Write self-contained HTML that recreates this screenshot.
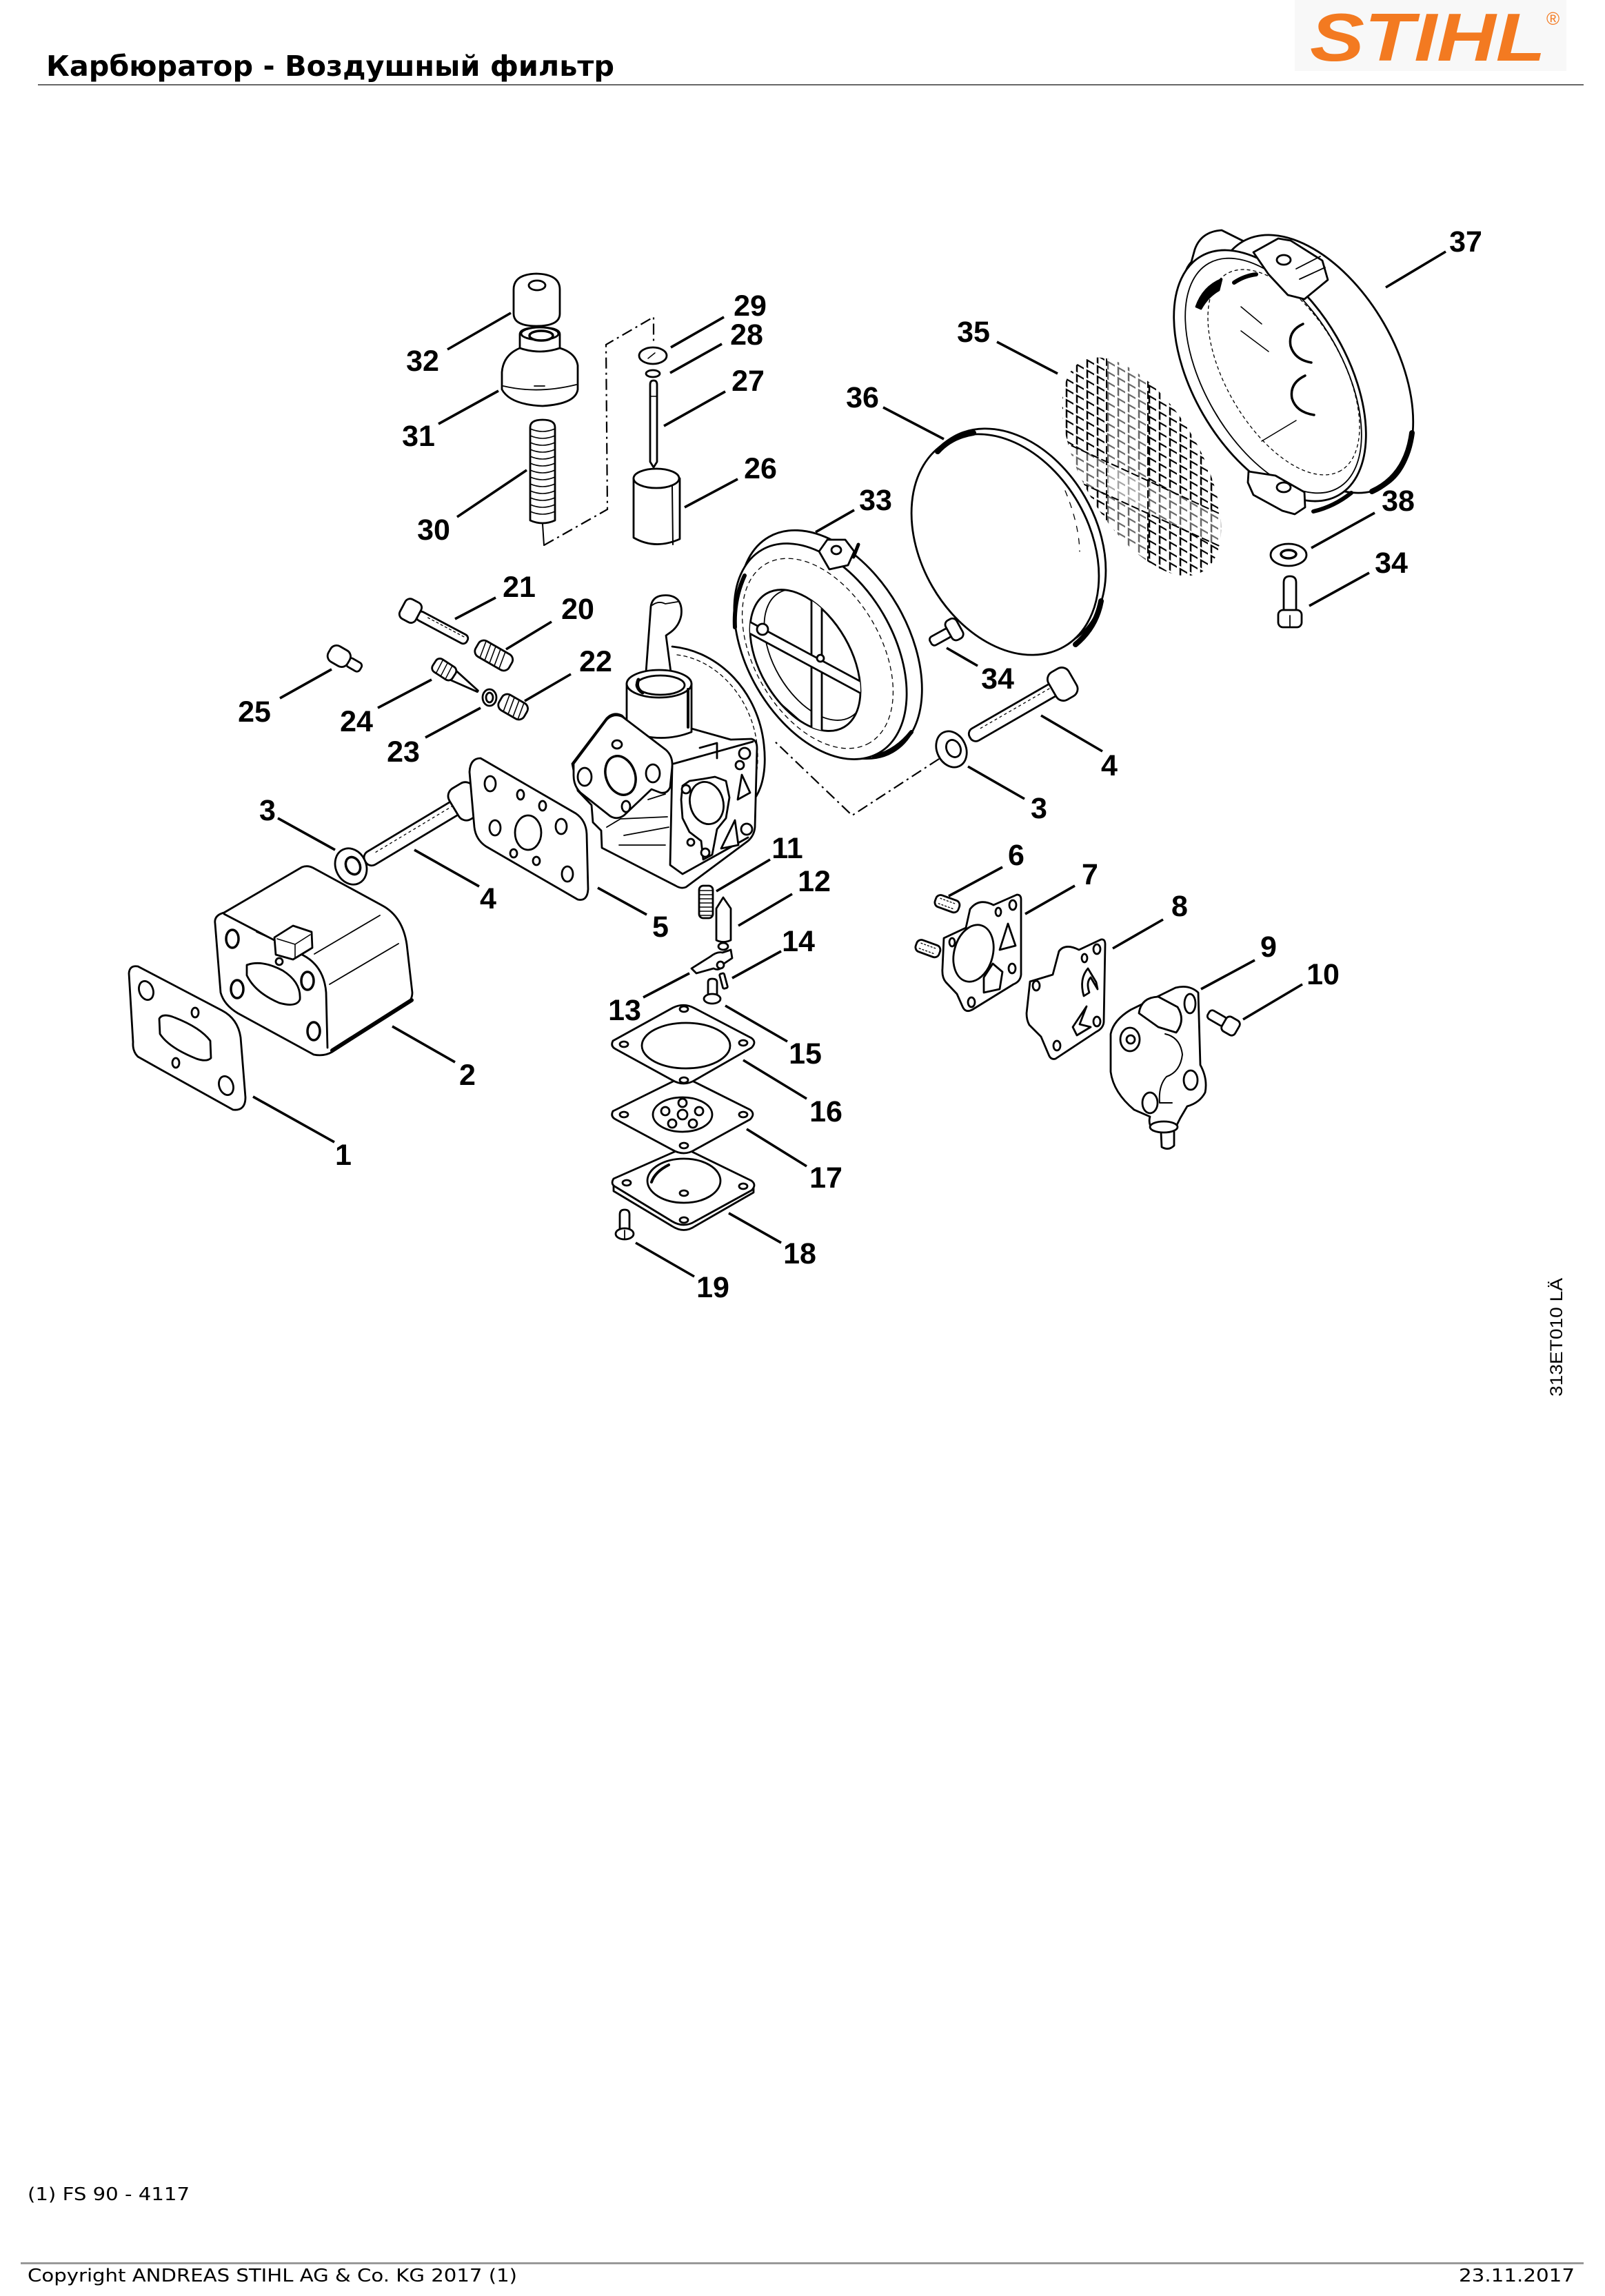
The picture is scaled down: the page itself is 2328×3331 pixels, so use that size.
<!DOCTYPE html>
<html><head><meta charset="utf-8"><title>Карбюратор - Воздушный фильтр</title>
<style>html,body{margin:0;padding:0;background:#fff;}body{width:2328px;height:3331px;overflow:hidden;}svg{display:block;}</style></head>
<body>
<svg width="2328" height="3331" viewBox="0 0 2328 3331" xmlns="http://www.w3.org/2000/svg">
<defs>
<pattern id="mesh" width="15" height="15" patternUnits="userSpaceOnUse" patternTransform="skewY(30)"><path d="M1,2 H12 M2,1 V13" stroke="#000" stroke-width="2.5" fill="none"/></pattern>
<clipPath id="c35"><ellipse cx="1656" cy="677" rx="176" ry="86" transform="rotate(60 1656 677)"/></clipPath>
<clipPath id="c33"><ellipse cx="1168" cy="958" rx="112" ry="66" transform="rotate(60 1168 958)"/></clipPath>
</defs>
<rect width="2328" height="3331" fill="#fff"/>
<!-- header -->
<rect x="1878" y="0" width="394" height="103" fill="#f8f8f8"/>
<text x="1900" y="88" font-family="Liberation Sans, Arial, sans-serif" font-weight="bold" font-style="italic" font-size="98" fill="#f37a21" textLength="342" lengthAdjust="spacingAndGlyphs">STIHL</text>
<text x="2243" y="36" font-family="Liberation Sans, Arial, sans-serif" font-size="26" fill="#f37a21">®</text>
<text x="67" y="110" font-family="DejaVu Sans, Liberation Sans, sans-serif" font-weight="bold" font-size="41" fill="#000" textLength="824" lengthAdjust="spacingAndGlyphs">Карбюратор - Воздушный фильтр</text>
<rect x="55" y="122" width="2242" height="2" fill="#666"/>
<!-- footer -->
<text x="40" y="3192" font-family="DejaVu Sans, Liberation Sans, sans-serif" font-size="26" fill="#000" textLength="235" lengthAdjust="spacingAndGlyphs">(1) FS 90 - 4117</text>
<rect x="30" y="3282" width="2267" height="3" fill="#999"/>
<text x="40" y="3310" font-family="DejaVu Sans, Liberation Sans, sans-serif" font-size="26" fill="#000" textLength="710" lengthAdjust="spacingAndGlyphs">Copyright ANDREAS STIHL AG &amp; Co. KG 2017 (1)</text>
<text x="2116" y="3310" font-family="DejaVu Sans, Liberation Sans, sans-serif" font-size="26" fill="#000" textLength="168" lengthAdjust="spacingAndGlyphs">23.11.2017</text>
<text transform="translate(2266,2026) rotate(-90)" x="0" y="0" font-family="Liberation Sans, Arial, sans-serif" font-size="25" fill="#000" textLength="172" lengthAdjust="spacingAndGlyphs">313ET010 LÄ</text>

<!-- ===== PARTS ===== -->
<g fill="#fff" stroke="#000" stroke-width="2.8" stroke-linejoin="round" stroke-linecap="round">

<!-- 37 housing -->
<path d="M1725,428 Q1710,400 1728,380 L1733,362 Q1742,336 1772,334 L1832,364 L1800,425 Z"/>
<ellipse cx="1905" cy="528" rx="205" ry="118" transform="rotate(60 1905 528)"/>
<ellipse cx="1842" cy="545" rx="200" ry="112" transform="rotate(60 1842 545)"/>
<ellipse cx="1847" cy="545" rx="188" ry="100" transform="rotate(60 1847 545)" stroke-width="1.8"/>
<ellipse cx="1862" cy="540" rx="165" ry="84" transform="rotate(60 1862 540)" fill="none" stroke-width="1.3" stroke-dasharray="4 5"/>
<path d="M1818,366 L1854,346 L1872,349 L1918,378 L1926,406 L1892,434 L1868,428 L1840,398 Z"/>
<ellipse cx="1862" cy="377" rx="10" ry="7"/>
<path d="M1880,390 L1915,372 M1885,405 L1922,388" fill="none" stroke-width="1.8"/>
<path d="M1811,684 L1850,690 L1892,714 L1893,736 L1878,746 L1860,741 L1818,718 L1810,700 Z"/>
<ellipse cx="1862" cy="707" rx="10" ry="7"/>
<path d="M1890,470 Q1868,480 1872,502 Q1878,522 1902,526 M1893,545 Q1870,556 1874,578 Q1880,598 1906,602" fill="none" stroke-width="3.5"/>
<path d="M1800,445 L1830,470 M1800,480 L1840,510 M1830,640 L1880,610" fill="none" stroke-width="1.5"/>
<path d="M1735,445 Q1745,416 1772,405 L1768,421 Q1752,430 1742,448 Z" fill="#000"/>
<path d="M1790,410 Q1805,400 1822,398" fill="none" stroke-width="6"/>
<path d="M2048,628 Q2040,690 1990,713" fill="none" stroke-width="8"/>
<path d="M1960,715 Q1935,735 1905,742" fill="none" stroke-width="6"/>

<!-- 35 screen -->
<g clip-path="url(#c35)">
<rect x="1470" y="490" width="380" height="380" fill="url(#mesh)" stroke="none"/>
<rect x="1605" y="520" width="60" height="330" fill="#fff" fill-opacity="0.4" stroke="none"/>
<path d="M1540,640 L1775,748 L1775,795 L1540,688 Z" fill="#fff" fill-opacity="0.4" stroke="none"/>
<path d="M1605,520 V850 M1665,520 V850 M1540,640 L1775,748 M1540,688 L1775,795" fill="none" stroke-width="2" stroke-dasharray="10 6"/>
</g>

<!-- 36 filter -->
<ellipse cx="1468" cy="782" rx="171" ry="122" transform="rotate(60 1468 782)"/>
<ellipse cx="1458" cy="790" rx="171" ry="122" transform="rotate(60 1458 790)"/>
<path d="M1360,655 Q1380,633 1412,628" fill="none" stroke-width="8"/>
<path d="M1597,872 Q1590,910 1560,935" fill="none" stroke-width="8"/>
<path d="M1545,712 Q1565,760 1566,800" fill="none" stroke-width="1.3" stroke-dasharray="8 10"/>

<!-- 33 filter base -->
<ellipse cx="1205" cy="935" rx="180" ry="112" transform="rotate(60 1205 935)"/>
<ellipse cx="1190" cy="945" rx="170" ry="106" transform="rotate(60 1190 945)"/>
<ellipse cx="1186" cy="948" rx="150" ry="92" transform="rotate(60 1186 948)" fill="none" stroke-width="1.3" stroke-dasharray="6 6"/>
<ellipse cx="1168" cy="958" rx="112" ry="66" transform="rotate(60 1168 958)"/>
<g clip-path="url(#c33)">
<ellipse cx="1182" cy="950" rx="104" ry="60" transform="rotate(60 1182 950)" fill="none" stroke-width="1.8"/>
<path d="M1177,845 L1192,845 L1192,1075 L1177,1075 Z"/>
<path d="M1080,898 L1260,995 L1260,1012 L1080,915 Z"/>
<path d="M1200,860 L1245,905 M1120,1010 L1160,1045" fill="none" stroke-width="1.8"/>
</g>
<circle cx="1106" cy="913" r="8"/>
<circle cx="1190" cy="955" r="5"/>
<path d="M1188,800 L1200,783 L1226,783 L1239,800 L1230,820 L1203,826 Z"/>
<ellipse cx="1213" cy="798" rx="7" ry="6"/>
<path d="M1080,835 Q1064,870 1066,910" fill="none" stroke-width="6"/>
<path d="M1322,1062 Q1300,1090 1268,1098" fill="none" stroke-width="6"/>
<path d="M1238,808 L1245,790" fill="none" stroke-width="5"/>

<!-- carburetor -->
<path d="M975,938 C1045,945 1100,1005 1108,1080 C1112,1115 1106,1140 1097,1155" fill="none"/>
<path d="M982,950 C1040,957 1090,1012 1098,1080 C1101,1110 1097,1130 1090,1145" fill="none" stroke-width="1.3" stroke-dasharray="5 5"/>
<path d="M937,975 L944,880 Q946,866 960,864 Q975,862 983,870 Q990,878 988,893 Q985,908 973,917 L966,922 L973,975 Z"/>
<path d="M946,878 Q955,871 965,876 L983,873" fill="none" stroke-width="1.8"/>
<path d="M830,1108 L880,1042 Q890,1032 902,1038 L910,1046 L1003,1057 L1060,1073 L1090,1072 Q1098,1074 1098,1085 L1095,1200 Q1094,1212 1085,1220 L995,1287 Q988,1290 980,1285 L873,1230 L872,1205 L860,1193 L858,1168 L838,1147 Z"/>
<path d="M909,992 L909,1060 Q957,1080 1003,1062 L1003,992 Z"/>
<ellipse cx="956" cy="992" rx="47" ry="20"/>
<ellipse cx="958" cy="994" rx="35" ry="14"/>
<path d="M926,986 Q921,998 932,1005" fill="none" stroke-width="5"/>
<path d="M998,1000 L998,1055" fill="none" stroke-width="4"/>
<path d="M832,1108 L880,1044 Q890,1034 903,1040 L966,1088 Q976,1097 975,1112 L972,1142 Q968,1152 958,1150 L945,1145 L905,1183 Q895,1190 885,1184 L842,1150 Q832,1140 832,1125 Z"/>
<ellipse cx="848" cy="1127" rx="10" ry="13"/>
<ellipse cx="947" cy="1122" rx="10" ry="13"/>
<ellipse cx="900" cy="1125" rx="21" ry="29" transform="rotate(-20 900 1125)" stroke-width="3.5"/>
<ellipse cx="895" cy="1080" rx="7" ry="6"/>
<ellipse cx="908" cy="1170" rx="6" ry="8"/>
<path d="M977,1108 L1092,1076 M975,1112 L972,1255 L990,1268 L1085,1215 M1015,1085 L1040,1078 L1040,1100" fill="none"/>
<path d="M990,1140 L1000,1133 L1020,1130 L1037,1127 L1053,1133 L1058,1157 L1053,1187 L1040,1203 L1033,1240 L1020,1247 L1017,1220 L1000,1207 L990,1187 L988,1160 Z"/>
<ellipse cx="1025" cy="1165" rx="24" ry="31" transform="rotate(-15 1025 1165)"/>
<path d="M1076,1124 L1088,1150 L1070,1160 Z M1066,1190 L1071,1226 L1046,1231 Z"/>
<circle cx="1080" cy="1093" r="8"/><circle cx="1073" cy="1110" r="6"/><circle cx="1083" cy="1203" r="8"/><circle cx="1023" cy="1237" r="6"/><circle cx="995" cy="1145" r="6"/><circle cx="1002" cy="1222" r="5"/>
<path d="M900,1188 L968,1185 M905,1212 L970,1200 M898,1226 L965,1226 M880,1200 L900,1188 M940,1160 L965,1152" fill="none" stroke-width="1.8"/>

<!-- 32 cap -->
<path d="M745,420 Q745,398 778,397 Q812,398 812,420 L812,455 Q812,473 778,473 Q745,473 745,455 Z"/>
<ellipse cx="779" cy="414" rx="12" ry="7"/>
<!-- 31 knob -->
<path d="M754,505 Q730,515 728,540 L728,565 Q740,587 787,589 Q835,586 838,565 L838,530 Q835,512 812,505 Z"/>
<path d="M754,505 L754,485 Q754,475 783,475 Q812,475 812,485 L812,505 Q783,515 754,505 Z"/>
<ellipse cx="783" cy="484" rx="27" ry="9"/>
<ellipse cx="785" cy="487" rx="17" ry="7" stroke-width="3.5"/>
<path d="M730,560 Q780,572 836,558 M775,560 L790,560" fill="none" stroke-width="1.8"/>
<!-- 30 spring -->
<path d="M769,620 Q769,609 787,609 Q805,609 805,620 L805,755 Q787,763 769,755 Z"/>
<path d="M769,622 Q787,630 805,622 M769,632 Q787,640 805,632 M769,642 Q787,650 805,642 M769,652 Q787,660 805,652 M769,662 Q787,670 805,662 M769,672 Q787,680 805,672 M769,682 Q787,690 805,682 M769,692 Q787,700 805,692 M769,702 Q787,710 805,702 M769,712 Q787,720 805,712 M769,722 Q787,730 805,722 M769,732 Q787,740 805,732 M769,742 Q787,750 805,742" fill="none" stroke-width="1.6"/>
<path d="M787,760 L789,791" fill="none" stroke-width="2"/>
<!-- 29 28 27 26 -->
<ellipse cx="947" cy="516" rx="20" ry="12"/>
<path d="M940,520 L950,512" fill="none" stroke-width="1.5"/>
<ellipse cx="947" cy="542" rx="10" ry="5"/>
<path d="M943,558 Q943,552 948,552 Q953,552 953,558 L953,670 L948,678 L943,670 Z"/>
<path d="M943,575 L953,575" fill="none" stroke-width="1.5"/>
<path d="M919,694 L919,780 Q950,798 986,782 L986,694 Z"/>
<ellipse cx="952" cy="694" rx="33" ry="14"/>
<path d="M975,705 L976,790" fill="none" stroke-width="2"/>
<!-- 21 20 22 23 24 25 -->
<g transform="translate(584,880) rotate(28)"><rect x="24" y="-7" width="82" height="14" rx="6"/><rect x="0" y="-16" width="26" height="32" rx="8"/><path d="M40,-3 H100" fill="none" stroke-width="1.3" stroke-dasharray="3 4"/></g>
<g transform="translate(692,937) rotate(30)"><rect x="0" y="-13" width="56" height="26" rx="9"/><path d="M8,-12 L12,12 M16,-12 L20,12 M24,-12 L28,12 M32,-12 L36,12 M40,-12 L44,12" fill="none" stroke-width="1.6"/></g>
<g transform="translate(726,1015) rotate(30)"><rect x="0" y="-13" width="42" height="26" rx="9"/><path d="M8,-12 L12,12 M16,-12 L20,12 M24,-12 L28,12 M32,-12 L36,12" fill="none" stroke-width="1.6"/></g>
<ellipse cx="710" cy="1012" rx="10" ry="12"/>
<ellipse cx="710" cy="1012" rx="5" ry="7"/>
<g transform="translate(630,962) rotate(33)"><path d="M32,-8 L75,-1 L75,1 L32,8 Z"/><rect x="0" y="-11" width="34" height="22" rx="7"/><path d="M8,-10 L10,10 M16,-10 L18,10 M24,-10 L26,10" fill="none" stroke-width="1.5"/></g>
<g transform="translate(478,944) rotate(30)"><rect x="30" y="-7" width="22" height="14" rx="5"/><rect x="0" y="-13" width="32" height="26" rx="10"/></g>
<!-- 4 left, 3 left -->
<g transform="translate(530,1250) rotate(-31)"><rect x="0" y="-11" width="160" height="22" rx="10"/><path d="M20,-4 H150" fill="none" stroke-width="1.3" stroke-dasharray="3 5"/><rect x="150" y="-26" width="40" height="52" rx="13"/></g>
<ellipse cx="509" cy="1257" rx="22" ry="27" transform="rotate(-25 509 1257)"/>
<ellipse cx="512" cy="1256" rx="10" ry="13" transform="rotate(-25 512 1256)" stroke-width="3.5"/>
<!-- 5 spacer gasket -->
<path d="M697,1100 L835,1180 Q850,1190 851,1210 L853,1290 Q852,1308 838,1305 L705,1228 Q690,1218 688,1200 L681,1120 Q682,1100 697,1100 Z"/>
<ellipse cx="711" cy="1137" rx="8" ry="11"/><ellipse cx="755" cy="1153" rx="5" ry="7"/><ellipse cx="787" cy="1169" rx="5" ry="7"/>
<ellipse cx="766" cy="1208" rx="19" ry="25"/><ellipse cx="814" cy="1199" rx="8" ry="11"/><ellipse cx="718" cy="1201" rx="8" ry="11"/>
<ellipse cx="745" cy="1238" rx="5" ry="6"/><ellipse cx="778" cy="1249" rx="5" ry="6"/><ellipse cx="823" cy="1268" rx="8" ry="11"/>
<!-- 1 gasket -->
<path d="M187,1412 Q188,1400 200,1402 L322,1466 Q345,1478 349,1505 L356,1592 Q356,1612 338,1610 L232,1551 L200,1533 Q192,1525 193,1512 Z"/>
<ellipse cx="212" cy="1437" rx="10" ry="14" transform="rotate(-20 212 1437)"/>
<ellipse cx="328" cy="1575" rx="10" ry="14" transform="rotate(-20 328 1575)"/>
<ellipse cx="283" cy="1469" rx="5" ry="7"/><ellipse cx="255" cy="1542" rx="5" ry="7"/>
<path d="M231,1478 Q235,1470 250,1475 Q290,1490 305,1510 L306,1535 Q300,1541 285,1536 Q245,1520 232,1500 Z"/>
<!-- 2 block -->
<path d="M312,1340 Q310,1328 325,1324 L438,1258 Q446,1255 454,1259 L555,1314 Q584,1330 590,1370 L598,1440 Q598,1452 588,1457 L482,1526 Q470,1533 455,1530 L345,1470 Q325,1458 320,1440 Z"/>
<path d="M325,1326 L440,1386 Q470,1402 473,1440 L475,1520" fill="none"/>
<path d="M456,1384 L551,1328 M478,1428 L578,1369 M372,1352 L398,1364" fill="none" stroke-width="1.8"/>
<path d="M398,1360 L425,1343 L452,1352 L453,1375 L425,1392 L400,1385 Z"/>
<path d="M402,1362 L428,1370 L450,1356 M428,1370 L428,1390" fill="none" stroke-width="1.6"/>
<circle cx="405" cy="1395" r="5"/>
<ellipse cx="337" cy="1362" rx="9" ry="13" stroke-width="3.5"/><ellipse cx="344" cy="1435" rx="9" ry="13" stroke-width="3.5"/>
<ellipse cx="446" cy="1423" rx="9" ry="13" stroke-width="3.5"/><ellipse cx="455" cy="1496" rx="9" ry="13" stroke-width="3.5"/>
<path d="M358,1400 Q380,1392 410,1408 Q437,1425 435,1450 Q430,1462 405,1455 Q370,1440 358,1415 Z"/>
<path d="M482,1524 L597,1451" fill="none" stroke-width="6"/>
<!-- 3 right, 4 right, 34 -->
<g transform="translate(1407,1070) rotate(-30)"><rect x="0" y="-10" width="148" height="20" rx="9"/><path d="M20,-4 H140" fill="none" stroke-width="1.3" stroke-dasharray="3 5"/><rect x="138" y="-23" width="34" height="46" rx="12"/></g>
<ellipse cx="1380" cy="1087" rx="21" ry="27" transform="rotate(-25 1380 1087)"/>
<ellipse cx="1383" cy="1086" rx="10" ry="13" transform="rotate(-25 1383 1086)"/>
<g transform="translate(1350,932) rotate(-29)"><rect x="0" y="-7" width="32" height="14" rx="5"/><rect x="30" y="-16" width="18" height="32" rx="7"/></g>
<path d="M1862,845 Q1862,836 1871,836 Q1880,836 1880,845 L1880,888 L1862,888 Z"/>
<rect x="1854" y="885" width="34" height="25" rx="7"/>
<path d="M1871,893 L1871,910" fill="none" stroke-width="1.8"/>
<ellipse cx="1869" cy="805" rx="26" ry="16"/>
<ellipse cx="1869" cy="804" rx="11" ry="6" stroke-width="3.5"/>
<!-- 6 screws, 7, 8, 9, 10 -->
<g transform="translate(1357,1305) rotate(20)"><rect x="0" y="-9" width="36" height="18" rx="7"/><path d="M6,-4 H30 M6,4 H30" fill="none" stroke-width="1.3" stroke-dasharray="2 3"/></g>
<g transform="translate(1329,1370) rotate(20)"><rect x="0" y="-9" width="36" height="18" rx="7"/><path d="M6,-4 H30 M6,4 H30" fill="none" stroke-width="1.3" stroke-dasharray="2 3"/></g>
<path d="M1369,1361 L1401,1346 L1407,1319 Q1420,1302 1441,1313 L1475,1298 Q1481,1298 1481,1305 L1481,1414 Q1480,1424 1470,1428 L1410,1465 Q1400,1470 1396,1460 L1388,1442 L1372,1425 Q1366,1418 1367,1405 Z"/>
<ellipse cx="1412" cy="1383" rx="28" ry="42" transform="rotate(15 1412 1383)"/>
<path d="M1462,1340 L1473,1372 L1450,1378 Z M1440,1398 L1454,1410 L1450,1435 L1427,1440 L1427,1418 Z"/>
<ellipse cx="1448" cy="1323" rx="4" ry="6"/><ellipse cx="1469" cy="1313" rx="5" ry="7"/><ellipse cx="1381" cy="1367" rx="4" ry="6"/><ellipse cx="1468" cy="1405" rx="5" ry="7"/><ellipse cx="1409" cy="1454" rx="5" ry="7"/>
<path d="M1494,1424 L1527,1414 L1536,1380 Q1545,1368 1565,1378 L1597,1363 Q1603,1362 1603,1370 L1601,1483 Q1600,1492 1590,1497 L1531,1536 Q1524,1538 1521,1530 L1510,1504 L1493,1487 Q1489,1480 1489,1470 Z"/>
<path d="M1578,1405 Q1565,1420 1572,1445 L1580,1440 Q1575,1425 1582,1418 L1592,1435 L1590,1425 Z M1576,1460 L1556,1490 L1562,1502 L1582,1490 L1566,1486 Z"/>
<ellipse cx="1591" cy="1377" rx="5" ry="7"/><ellipse cx="1573" cy="1390" rx="4" ry="6"/><ellipse cx="1503" cy="1430" rx="5" ry="7"/><ellipse cx="1591" cy="1482" rx="5" ry="7"/><ellipse cx="1533" cy="1517" rx="5" ry="7"/>
<path d="M1611,1500 Q1615,1480 1640,1465 L1705,1433 Q1725,1428 1738,1440 L1741,1545 Q1752,1565 1748,1585 Q1740,1600 1722,1605 L1712,1622 L1703,1640 L1703,1662 Q1695,1670 1685,1664 L1684,1643 L1672,1640 Q1665,1630 1668,1620 L1645,1610 Q1615,1585 1611,1555 Z"/>
<path d="M1652,1470 Q1655,1447 1680,1446 L1708,1461 Q1720,1480 1706,1498 L1680,1490 Z"/>
<path d="M1690,1500 Q1712,1505 1715,1530 Q1712,1555 1692,1562 Q1680,1575 1682,1600 L1700,1600" fill="none" stroke-width="2"/>
<ellipse cx="1639" cy="1508" rx="14" ry="17"/><circle cx="1640" cy="1508" r="6"/>
<ellipse cx="1726" cy="1456" rx="8" ry="14"/>
<ellipse cx="1727" cy="1567" rx="10" ry="14"/>
<ellipse cx="1668" cy="1600" rx="11" ry="15"/>
<ellipse cx="1688" cy="1635" rx="20" ry="8"/>
<g transform="translate(1753,1470) rotate(30)"><rect x="0" y="-7" width="28" height="14" rx="5"/><rect x="26" y="-12" width="22" height="24" rx="6"/></g>
<!-- 11-15 -->
<rect x="1014" y="1285" width="20" height="47" rx="6"/>
<path d="M1015,1292 H1033 M1015,1298 H1033 M1015,1304 H1033 M1015,1310 H1033 M1015,1316 H1033 M1015,1322 H1033 M1015,1328 H1033" fill="none" stroke-width="1.4"/>
<path d="M1049,1302 L1039,1318 L1039,1364 Q1049,1369 1060,1364 L1060,1318 Z"/>
<ellipse cx="1049" cy="1373" rx="7" ry="5"/>
<path d="M1003,1405 L1030,1388 Q1040,1380 1048,1382 L1060,1378 L1062,1390 L1050,1398 Q1045,1410 1035,1405 L1010,1412 Z"/>
<circle cx="1045" cy="1400" r="5"/>
<rect x="1046" y="1412" width="7" height="22" rx="2" transform="rotate(-15 1050 1423)"/>
<path d="M1027,1425 Q1027,1420 1033,1420 Q1040,1420 1040,1425 L1040,1445 L1027,1445 Z"/>
<ellipse cx="1033" cy="1449" rx="12" ry="7"/>
<!-- 18 17 16 -->
<path d="M890,1720 L890,1728 L975,1779 Q992,1790 1008,1779 L1093,1730 L1093,1722 Z"/>
<path d="M890,1710 Q885,1718 893,1722 L975,1772 Q992,1782 1008,1772 L1090,1727 Q1098,1719 1090,1713 L1008,1673 Q992,1664 976,1672 Z"/>
<ellipse cx="992" cy="1713" rx="53" ry="32"/>
<path d="M945,1715 Q950,1700 970,1690" fill="none" stroke-width="4"/>
<ellipse cx="992" cy="1731" rx="6" ry="4"/>
<ellipse cx="909" cy="1716" rx="6" ry="4"/><ellipse cx="1078" cy="1721" rx="6" ry="4"/><ellipse cx="992" cy="1770" rx="6" ry="4"/>
<path d="M889,1612 Q885,1620 893,1624 L975,1668 Q992,1678 1008,1668 L1088,1624 Q1096,1616 1088,1610 L1008,1570 Q992,1561 976,1569 Z"/>
<ellipse cx="990" cy="1617" rx="43" ry="25"/>
<circle cx="990" cy="1617" r="7"/><circle cx="965" cy="1612" r="6"/><circle cx="1014" cy="1612" r="6"/><circle cx="975" cy="1630" r="6"/><circle cx="1005" cy="1630" r="6"/><circle cx="990" cy="1600" r="6"/>
<ellipse cx="905" cy="1617" rx="6" ry="4"/><ellipse cx="1078" cy="1617" rx="6" ry="4"/><ellipse cx="992" cy="1662" rx="6" ry="4"/>
<path d="M889,1510 Q885,1518 893,1522 L975,1567 Q992,1577 1008,1567 L1090,1520 Q1098,1512 1090,1506 L1008,1463 Q992,1454 976,1462 Z"/>
<ellipse cx="995" cy="1517" rx="64" ry="33"/>
<ellipse cx="905" cy="1515" rx="6" ry="4"/><ellipse cx="992" cy="1464" rx="6" ry="4"/><ellipse cx="1078" cy="1513" rx="6" ry="4"/><ellipse cx="992" cy="1567" rx="6" ry="4"/>
<!-- 19 -->
<path d="M899,1762 Q899,1755 906,1755 Q913,1755 913,1762 L913,1785 L899,1785 Z"/>
<ellipse cx="906" cy="1790" rx="13" ry="8"/>
<path d="M906,1785 L906,1798" fill="none" stroke-width="1.8"/>
</g>

<!-- dash-dot assembly lines -->
<g fill="none" stroke="#000" stroke-width="2.2" stroke-dasharray="16 6 3 6">
<path d="M789,791 L881,739 L879,500 L948,460 L948,500"/>
<path d="M1362,1101 L1236,1183 L1121,1073"/>
</g>

<!-- leaders -->
<g stroke="#000" stroke-width="3.6" fill="none">
<path d="M367,1591 L485,1657 M569,1489 L660,1541 M403,1187 L486,1233 M601,1233 L695,1286 M867,1288 L938,1327 M1404,1112 L1486,1159 M1510,1038 L1599,1090 M1376,1300 L1454,1258 M1487,1326 L1559,1285 M1614,1376 L1687,1334 M1742,1435 L1820,1393 M1803,1479 L1889,1428 M1039,1293 L1117,1247 M1071,1343 L1149,1297 M933,1447 L1000,1412 M1062,1419 L1133,1380 M1052,1459 L1142,1511 M1078,1538 L1170,1594 M1083,1638 L1170,1692 M1057,1760 L1133,1803 M922,1803 L1007,1852 M734,942 L800,902 M660,898 L719,867 M761,1017 L828,978 M617,1070 L697,1027 M548,1027 L626,986 M406,1013 L481,971 M993,736 L1070,695 M963,618 L1052,568 M972,541 L1047,499 M973,504 L1050,460 M663,750 L764,682 M636,615 L723,567 M649,507 L741,454 M1183,772 L1239,740 M1373,940 L1418,966 M1899,879 L1986,831 M1446,496 L1534,542 M1281,591 L1369,637 M2010,417 L2097,365 M1902,795 L1994,744"/>
</g>

<!-- labels -->
<g font-family="Liberation Sans, Arial, sans-serif" font-weight="bold" font-size="43" fill="#000" text-anchor="middle">
<text x="498" y="1690">1</text><text x="678" y="1574">2</text><text x="388" y="1190">3</text><text x="708" y="1318">4</text>
<text x="958" y="1359">5</text><text x="1507" y="1187">3</text><text x="1609" y="1125">4</text><text x="1474" y="1255">6</text>
<text x="1581" y="1283">7</text><text x="1711" y="1329">8</text><text x="1840" y="1388">9</text><text x="1919" y="1428">10</text>
<text x="1142" y="1245">11</text><text x="1181" y="1293">12</text><text x="906" y="1480">13</text><text x="1158" y="1380">14</text>
<text x="1168" y="1543">15</text><text x="1198" y="1627">16</text><text x="1198" y="1723">17</text><text x="1160" y="1833">18</text>
<text x="1034" y="1882">19</text><text x="838" y="898">20</text><text x="753" y="866">21</text><text x="864" y="974">22</text>
<text x="585" y="1105">23</text><text x="517" y="1061">24</text><text x="369" y="1047">25</text><text x="1103" y="694">26</text>
<text x="1085" y="567">27</text><text x="1083" y="500">28</text><text x="1088" y="458">29</text><text x="629" y="783">30</text>
<text x="607" y="647">31</text><text x="613" y="538">32</text><text x="1270" y="740">33</text><text x="1447" y="999">34</text>
<text x="2018" y="831">34</text><text x="1412" y="496">35</text><text x="1251" y="591">36</text><text x="2126" y="365">37</text>
<text x="2028" y="741">38</text>
</g>
</svg>
</body></html>
